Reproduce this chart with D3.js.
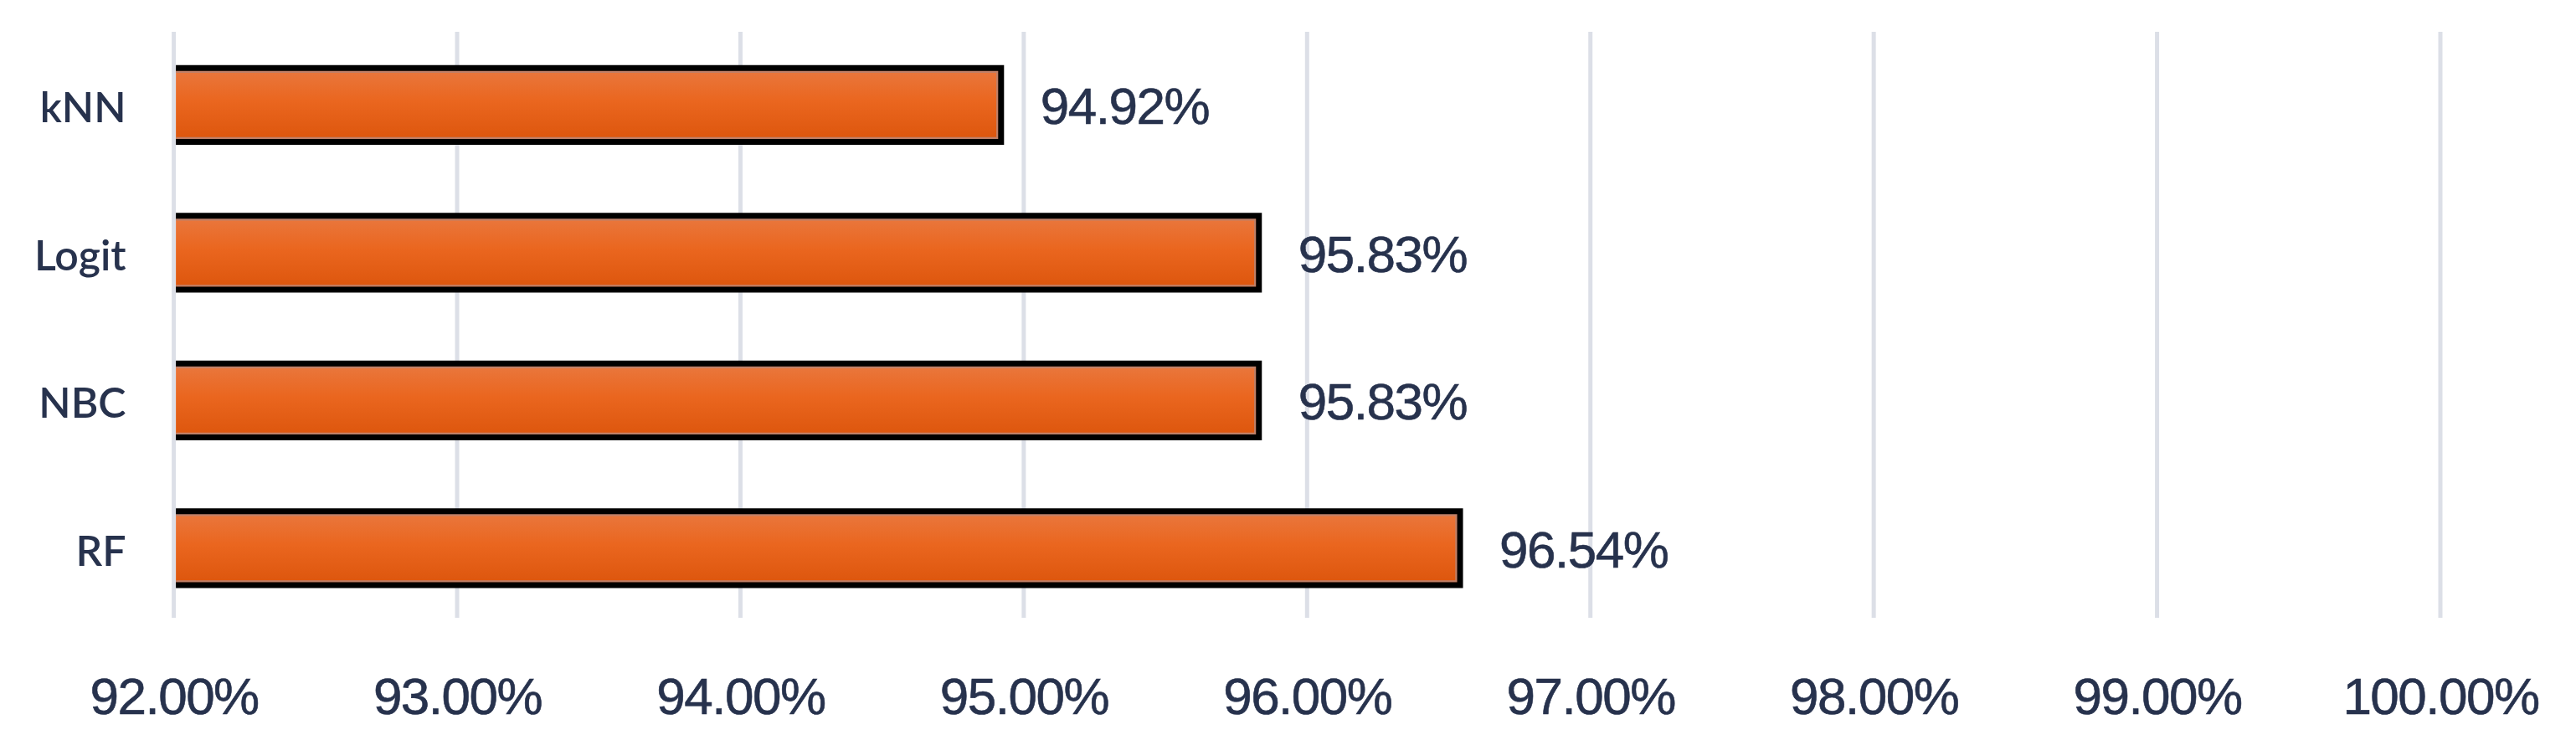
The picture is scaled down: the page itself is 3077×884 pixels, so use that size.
<!DOCTYPE html>
<html>
<head>
<meta charset="utf-8">
<script src="https://cdn.jsdelivr.net/npm/d3@7"></script>
<style>
  html, body { margin: 0; padding: 0; background: #ffffff; }
  svg { display: block; }
</style>
</head>
<body>
<svg id="chart" width="3077" height="884"></svg>
<script>
const categories = ["kNN", "Logit", "NBC", "RF"];
const values = [94.92, 95.83, 95.83, 96.54];
const valueLabels = ["94.92%", "95.83%", "95.83%", "96.54%"];
const tickValues = [92, 93, 94, 95, 96, 97, 98, 99, 100];
const tickLabels = ["92.00%", "93.00%", "94.00%", "95.00%", "96.00%", "97.00%", "98.00%", "99.00%", "100.00%"];

const W = 3077, H = 884;
const svg = d3.select("#chart");
const textColor = "#27324d";
const numFont = "'Liberation Sans', Arial, Helvetica, sans-serif";
const catFont = "Lato, 'Open Sans', sans-serif";

const x = d3.scaleLinear().domain([92, 100]).range([207.6, 2915]);
const y = d3.scaleBand().domain(categories).range([37, 743]).paddingInner(0.5).paddingOuter(0.25);
const gridTop = 38, gridBottom = 738;

// gradient
const defs = svg.append("defs");
const grad = defs.append("linearGradient").attr("id", "barGrad")
  .attr("x1", 0).attr("y1", 0).attr("x2", 0).attr("y2", 1);
grad.append("stop").attr("offset", "0%").attr("stop-color", "#e9783f");
grad.append("stop").attr("offset", "45%").attr("stop-color", "#ea661f");
grad.append("stop").attr("offset", "100%").attr("stop-color", "#dc550c");

// gridlines
svg.append("g").selectAll("line").data(tickValues).join("line")
  .attr("x1", d => x(d)).attr("x2", d => x(d))
  .attr("y1", gridTop).attr("y2", gridBottom)
  .attr("stroke", "#dcdfe7").attr("stroke-width", 5);

// bars
const data = categories.map((c, i) => ({ c, v: values[i], label: valueLabels[i] }));
const bars = svg.append("g");
const x0 = x(92) + 2.5;
bars.selectAll("rect").data(data).join("rect")
  .attr("x", x0).attr("y", d => y(d.c))
  .attr("width", d => x(d.v) - x0).attr("height", y.bandwidth())
  .attr("fill", "url(#barGrad)");
// inner highlight
bars.selectAll("path.hl").data(data).join("path").attr("class", "hl")
  .attr("d", d => {
    const t = y(d.c) + 4.5, b = y(d.c) + y.bandwidth() - 4.5, r = x(d.v) - 4.5;
    return `M${x0},${t} L${r},${t} L${r},${b} L${x0},${b}`;
  })
  .attr("fill", "none").attr("stroke", "#c08068").attr("stroke-width", 2.5);
// border (top, right, bottom)
bars.selectAll("path.bd").data(data).join("path").attr("class", "bd")
  .attr("d", d => {
    const t = y(d.c), b = y(d.c) + y.bandwidth(), r = x(d.v);
    return `M${x0},${t} L${r},${t} L${r},${b} L${x0},${b}`;
  })
  .attr("fill", "none").attr("stroke", "#000000").attr("stroke-width", 7)
  .attr("stroke-linejoin", "miter");

// value labels
svg.append("g").selectAll("text").data(data).join("text")
  .attr("x", d => x(d.v) + 47)
  .attr("y", d => y(d.c) + y.bandwidth() / 2 + 23)
  .attr("font-family", numFont).attr("font-size", 62)
  .attr("letter-spacing", "-1.5px")
  .attr("stroke", textColor).attr("stroke-width", 0.6)
  .attr("fill", textColor)
  .text(d => d.label);

// x axis
const xAxis = d3.axisBottom(x).tickValues(tickValues).tickSize(0)
  .tickFormat((d, i) => tickLabels[i]);
const gx = svg.append("g").attr("transform", `translate(0,${gridBottom})`).call(xAxis);
gx.select(".domain").remove();
gx.selectAll("text")
  .attr("y", 115).attr("dy", null)
  .attr("font-family", numFont).attr("font-size", 62)
  .attr("letter-spacing", "-1.5px")
  .attr("stroke", textColor).attr("stroke-width", 0.6)
  .attr("fill", textColor);

// y axis
const yAxis = d3.axisLeft(y).tickSize(0).tickPadding(57);
const gy = svg.append("g").attr("transform", `translate(${x(92)},0)`).call(yAxis);
gy.select(".domain").remove();
gy.selectAll("text")
  .attr("dy", null).attr("y", 21)
  .attr("font-family", catFont).attr("font-size", 50).attr("font-weight", 600)
  .attr("fill", textColor);
</script>
</body>
</html>
